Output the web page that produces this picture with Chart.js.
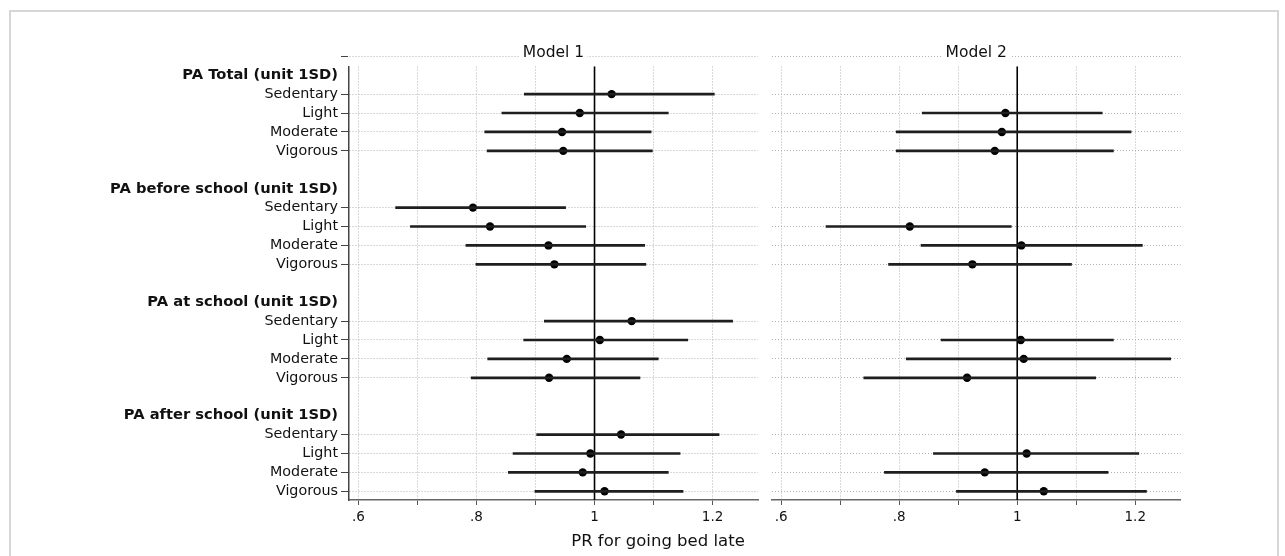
<!DOCTYPE html>
<html>
<head>
<meta charset="utf-8">
<script src="https://cdn.jsdelivr.net/npm/chart.js@4/dist/chart.umd.min.js"></script>
<style>
  body { margin: 0; background: #fff; }
  #wrap { position: relative; width: 1285px; height: 556px; overflow: hidden; }
  #frame { position: absolute; left: 9px; top: 10px; width: 1266px; height: 580px; border: 2px solid #d6d6d6; }
  canvas { position: absolute; top: 0; }
  #c1 { left: 0; }
  #c2 { left: 766px; }
  #xtitle { position: absolute; left: 658px; top: 531px; transform: translateX(-50%);
            font: 16.5px "DejaVu Sans"; color: #111; white-space: nowrap; }
</style>
</head>
<body>
<div id="wrap">
  <div id="frame"></div>
  <canvas id="c1" width="766" height="556"></canvas>
  <canvas id="c2" width="519" height="556"></canvas>
  <div id="xtitle">PR for going bed late</div>
</div>
<script>
// groups and levels (rows of the plot)
const groups = ['PA Total (unit 1SD)', 'PA before school (unit 1SD)', 'PA at school (unit 1SD)', 'PA after school (unit 1SD)'];
const levels = ['Sedentary', 'Light', 'Moderate', 'Vigorous'];

// Model 1: estimate and 95% CI, ordered group by group, level by level
const m1Est = [1.029, 0.975, 0.945, 0.947,  0.794, 0.823, 0.922, 0.932,  1.063, 1.009, 0.953, 0.923,  1.045, 0.993, 0.980, 1.017];
const m1Lo  = [0.881, 0.843, 0.814, 0.818,  0.663, 0.688, 0.782, 0.799,  0.915, 0.880, 0.819, 0.791,  0.902, 0.862, 0.854, 0.899];
const m1Hi  = [1.203, 1.125, 1.096, 1.098,  0.951, 0.985, 1.085, 1.087,  1.234, 1.158, 1.108, 1.077,  1.211, 1.145, 1.125, 1.150];

// Model 2: sedentary not estimated
const m2Est = [null, 0.980, 0.974, 0.962,  null, 0.818, 1.007, 0.924,  null, 1.006, 1.011, 0.915,  null, 1.016, 0.945, 1.045];
const m2Lo  = [null, 0.839, 0.795, 0.795,  null, 0.676, 0.837, 0.782,  null, 0.871, 0.812, 0.740,  null, 0.858, 0.775, 0.897];
const m2Hi  = [null, 1.144, 1.193, 1.163,  null, 0.990, 1.212, 1.092,  null, 1.163, 1.260, 1.133,  null, 1.206, 1.154, 1.219];

const xTickValues = [0.6, 0.7, 0.8, 0.9, 1.0, 1.1, 1.2];
const xTickLabels = ['.6', '', '.8', '', '1', '', '1.2'];
const refValue = 1;

// row layout: top blank, then header + 4 levels (+ gap) per group
const rows = [{ label: '', kind: 'top' }];
groups.forEach((g, gi) => {
  rows.push({ label: g, kind: 'head' });
  levels.forEach(l => rows.push({ label: l, kind: 'item' }));
  if (gi < groups.length - 1) rows.push({ label: '', kind: 'gap' });
});
const itemRow = (gi, li) => 2 + gi * 6 + li;

function ciData(lo, hi) {
  const out = [];
  groups.forEach((g, gi) => levels.forEach((l, li) => {
    const i = gi * levels.length + li;
    if (lo[i] != null) out.push({ x: [lo[i], hi[i]], y: itemRow(gi, li) });
  }));
  return out;
}
function estData(est) {
  const out = [];
  groups.forEach((g, gi) => levels.forEach((l, li) => {
    const i = gi * levels.length + li;
    if (est[i] != null) out.push({ x: est[i], y: itemRow(gi, li) });
  }));
  return out;
}

const FONT = 'DejaVu Sans';
const GRID = '#b2b2b2';
const kindOf = v => (rows[v] ? rows[v].kind : 'gap');
const hasLine = v => kindOf(v) === 'item' || kindOf(v) === 'top';

const refLine = {
  id: 'refLine',
  beforeDatasetsDraw(chart) {
    const { ctx, chartArea, scales } = chart;
    const x = scales.x.getPixelForValue(refValue);
    ctx.save();
    ctx.strokeStyle = '#000';
    ctx.lineWidth = 1.6;
    ctx.beginPath();
    ctx.moveTo(x, chartArea.top);
    ctx.lineTo(x, chartArea.bottom);
    ctx.stroke();
    ctx.restore();
  }
};

const panelTitle = {
  id: 'panelTitle',
  afterDraw(chart, args, opts) {
    const { ctx, chartArea, scales } = chart;
    const cx = (chartArea.left + chartArea.right) / 2;
    const cy = scales.y.getPixelForValue(0) - 3;
    ctx.save();
    ctx.font = '15.5px "' + FONT + '"';
    const w = ctx.measureText(opts.text).width;
    ctx.fillStyle = '#fff';
    ctx.fillRect(cx - w / 2 - 3, cy - 9, w + 6, 18);
    ctx.fillStyle = '#111';
    ctx.textAlign = 'center';
    ctx.textBaseline = 'middle';
    ctx.fillText(opts.text, cx, cy);
    ctx.restore();
  }
};

function makeChart(id, title, lo, hi, est, withLabels, pad) {
  return new Chart(document.getElementById(id), {
    type: 'scatter',
    data: {
      datasets: [
        {
          type: 'bar',
          indexAxis: 'y',
          data: ciData(lo, hi),
          backgroundColor: '#1e1e1e',
          borderWidth: 0,
          barThickness: 2
        },
        {
          type: 'scatter',
          data: estData(est),
          pointRadius: 4.2,
          pointBackgroundColor: '#000',
          pointBorderWidth: 0
        }
      ]
    },
    options: {
      responsive: false,
      animation: false,
      layout: { padding: pad },
      plugins: {
        legend: { display: false },
        tooltip: { enabled: false },
        panelTitle: { text: title }
      },
      scales: {
        x: {
          type: 'linear',
          offset: false,
          min: 0.584,
          max: 1.277,
          afterBuildTicks: s => { s.ticks = xTickValues.map(v => ({ value: v })); },
          afterFit: s => { s.height = 30; },
          ticks: {
            autoSkip: false,
            maxRotation: 0,
            padding: 4,
            color: '#111',
            font: { family: FONT, size: 13.5 },
            callback: (v, i) => xTickLabels[i]
          },
          grid: { offset: false, color: GRID, lineWidth: 1, tickLength: 5, tickColor: '#555', tickWidth: 1, tickBorderDash: [] },
          border: { display: true, color: '#666', width: 1.5, dash: [1, 2] }
        },
        y: {
          type: 'linear',
          offset: false,
          reverse: true,
          min: 0.54,
          max: 23.46,
          afterBuildTicks: s => { s.ticks = rows.map((r, i) => ({ value: i })); },
          afterFit: s => { s.width = withLabels ? 349 : 0; },
          ticks: {
            display: withLabels,
            autoSkip: false,
            padding: 3,
            color: '#111',
            font: c => ({ family: FONT, size: kindOf(c.tick && c.tick.value) === 'head' ? 14.7 : 14.3,
                          weight: kindOf(c.tick && c.tick.value) === 'head' ? 'bold' : 'normal' }),
            callback: v => (rows[v] ? rows[v].label : '')
          },
          grid: {
            offset: false,
            drawTicks: withLabels,
            tickLength: 8,
            lineWidth: c => (hasLine(c.tick && c.tick.value) ? 1 : 0),
            color: GRID,
            tickColor: c => (hasLine(c.tick && c.tick.value) ? '#444' : 'rgba(0,0,0,0)'),
            tickWidth: 1,
            tickBorderDash: []
          },
          border: { display: withLabels, color: '#444', width: 1.5, dash: [1, 2] }
        }
      }
    },
    plugins: [refLine, panelTitle]
  });
}

makeChart('c1', 'Model 1', m1Lo, m1Hi, m1Est, true, { left: 0, right: 8, top: 66.5, bottom: 26 });
makeChart('c2', 'Model 2', m2Lo, m2Hi, m2Est, false, { left: 5.7, right: 104.3, top: 66.5, bottom: 26 });
</script>
</body>
</html>
